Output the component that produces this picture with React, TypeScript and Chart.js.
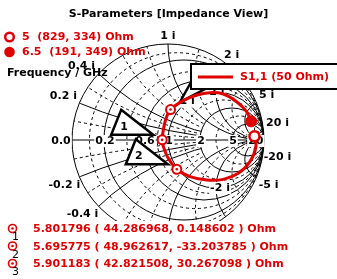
import React, { useEffect, useRef } from "react";
import { Chart, registerables } from "chart.js";

Chart.register(...registerables);

const TITLE = "S-Parameters [Impedance View]";
const Z0 = 50;

// S1,1 trace (reflection coefficient), sweep from 5 GHz to 6.5 GHz
const S11_RE = [0.9005, 0.916, 0.854, 0.732, 0.576, 0.403, 0.23, 0.0916, 0.003, -0.048, -0.0606, -0.042, -0.014, 0.026, 0.159, 0.299, 0.437, 0.576, 0.715, 0.819, 0.866];
const S11_IM = [0.0378, -0.069, -0.226, -0.347, -0.41, -0.417, -0.382, -0.3047, -0.191, -0.069, 0.0017, 0.139, 0.242, 0.3175, 0.41, 0.469, 0.493, 0.479, 0.399, 0.295, 0.194];

// sweep end points (GHz, Ohm)
const SWEEP_FREQ = [5, 6.5];
const SWEEP_R = [829, 191];
const SWEEP_X = [334, 349];

// markers (GHz, Ohm)
const MARKER_ID = ["1", "2", "3"];
const MARKER_FREQ = [5.801796, 5.695775, 5.901183];
const MARKER_R = [44.286968, 48.962617, 42.821508];
const MARKER_X = [0.148602, -33.203785, 30.267098];

// Smith grid
const R_MAJOR = [0.2, 0.6, 1, 2, 5, 20];
const R_MINOR = [0.1, 0.4, 0.8, 1.4, 3, 10];
const X_MAJOR = [0.2, 0.4, 1, 2, 5, 20];
const X_MINOR = [0.1, 0.3, 0.6, 0.8, 1.4, 3, 10];
const X_SMALL_LIMIT_R = 2; // reactance arcs below 1 stop at this resistance circle
const R_TICKS = [0, 0.2, 0.6, 1, 2, 5, 20];
const R_TICK_TEXT = ["0.0", "0.2", "0.6", "1", "2", "5", "20"];
const X_OUTER_TICKS = [0.2, 0.4, 1, 2, 5, 20, -20, -5, -0.2, -0.4];
const X_INNER_TICKS = [1, 2, -2];

// layout (pixels)
const W = 337;
const H = 279;
const CENTER_X = 168;
const CENTER_Y = 140;
const RADIUS = 96;
const TITLE_BLOCK = 22;
const CLIP_Y = 221;
const RED = "#e00000";
const FONT = "bold 11px 'DejaVu Sans'";
const OUTER_OFF: Record<string, number[]> = {
  "1": [0, -8], "2": [6, -8], "5": [10, -8], "20": [14, -7], "-20": [14, 8],
  "-5": [12, 8], "-0.2": [-15, 8], "-0.4": [-16, 8], "0.2": [-16, -7], "0.4": [-17, -8],
};
const INNER_OFF: Record<string, number[]> = { "1": [0, 0], "2": [1, 0], "-2": [4, 0] };
const TRI_SHAPE = [[-41, -30], [-51, -5], [-9, -5]];
const TRI_LABEL = [-38, -13];
const TRI3_SHAPE = [[9.5, -7.5], [30.5, -45.5], [59.5, -33.5]];

function gamma(r: number, x: number) {
  const den = (r + 1) * (r + 1) + x * x;
  return { x: (r * r + x * x - 1) / den, y: (2 * x) / den };
}

const markerG = MARKER_R.map((r, i) => gamma(r / Z0, MARKER_X[i] / Z0));
const sweepG = SWEEP_R.map((r, i) => gamma(r / Z0, SWEEP_X[i] / Z0));

function label(ctx: CanvasRenderingContext2D, text: string, x: number, y: number, bg: boolean) {
  ctx.font = FONT;
  ctx.textAlign = "center";
  ctx.textBaseline = "middle";
  if (bg) {
    const w = ctx.measureText(text).width;
    ctx.fillStyle = "#ffffff";
    ctx.fillRect(x - w / 2 - 1, y - 6, w + 2, 12);
  }
  ctx.fillStyle = "#000000";
  ctx.fillText(text, x, y);
}

const smithPlugin = {
  id: "smith",
  beforeDatasetsDraw(chart: any) {
    const ctx: CanvasRenderingContext2D = chart.ctx;
    const xs = chart.scales.x;
    const ys = chart.scales.y;
    const px = (v: number) => xs.getPixelForValue(v);
    const py = (v: number) => ys.getPixelForValue(v);
    const cx = px(0);
    const cy = py(0);
    const R = px(1) - cx;
    ctx.save();
    ctx.beginPath();
    ctx.rect(0, 0, chart.width, CLIP_Y);
    ctx.clip();
    ctx.save();
    ctx.beginPath();
    ctx.arc(cx, cy, R, 0, Math.PI * 2);
    ctx.clip();
    ctx.strokeStyle = "#000000";
    ctx.lineWidth = 1;
    const drawR = (r: number) => {
      ctx.beginPath();
      ctx.arc(px(r / (1 + r)), cy, R / (1 + r), 0, Math.PI * 2);
      ctx.stroke();
    };
    const drawX = (x: number) => {
      ctx.save();
      if (x < 1) {
        const rl = X_SMALL_LIMIT_R;
        const c = px(rl / (1 + rl));
        const rad = R / (1 + rl);
        ctx.beginPath();
        ctx.rect(0, 0, chart.width, chart.height);
        ctx.moveTo(c + rad, cy);
        ctx.arc(c, cy, rad, 0, Math.PI * 2);
        ctx.clip("evenodd");
      }
      for (const s of [1, -1]) {
        ctx.beginPath();
        ctx.arc(px(1), py(s / x), R / x, 0, Math.PI * 2);
        ctx.stroke();
      }
      ctx.restore();
    };
    ctx.setLineDash([3, 3]);
    R_MINOR.forEach(drawR);
    X_MINOR.forEach(drawX);
    ctx.setLineDash([]);
    R_MAJOR.forEach(drawR);
    X_MAJOR.forEach(drawX);
    ctx.restore();
    ctx.beginPath();
    ctx.arc(cx, cy, R, 0, Math.PI * 2);
    ctx.stroke();
    ctx.beginPath();
    ctx.moveTo(px(-1), cy);
    ctx.lineTo(px(1), cy);
    ctx.stroke();
    ctx.restore();

    // resistance labels on the real axis
    R_TICKS.forEach((r, i) => {
      const g = gamma(r, 0);
      const dx = r === 0 ? -11 : 1;
      label(ctx, R_TICK_TEXT[i], px(g.x) + dx, py(g.y) + 1, true);
    });
    // reactance labels on outer circle
    X_OUTER_TICKS.forEach((x) => {
      const g = gamma(0, x);
      const o = OUTER_OFF[String(x)];
      label(ctx, `${x} i`, px(g.x) + o[0], py(g.y) + o[1], false);
    });
    // reactance labels on r = 1 circle
    X_INNER_TICKS.forEach((x) => {
      const g = gamma(1, x);
      const o = INNER_OFF[String(x)];
      label(ctx, `${x} i`, px(g.x) + o[0], py(g.y) + o[1], true);
    });

    // marker callouts
    ctx.lineWidth = 2.5;
    ctx.lineJoin = "miter";
    markerG.forEach((g, i) => {
      const mx = px(g.x);
      const my = py(g.y);
      const shape = i < 2 ? TRI_SHAPE : TRI3_SHAPE;
      ctx.beginPath();
      shape.forEach((p, k) => (k === 0 ? ctx.moveTo(mx + p[0], my + p[1]) : ctx.lineTo(mx + p[0], my + p[1])));
      ctx.closePath();
      ctx.fillStyle = "#ffffff";
      ctx.fill();
      ctx.strokeStyle = "#000000";
      ctx.stroke();
      if (i < 2) label(ctx, MARKER_ID[i], mx + TRI_LABEL[0], my + TRI_LABEL[1], false);
    });
  },
  afterDatasetsDraw(chart: any) {
    const ctx: CanvasRenderingContext2D = chart.ctx;
    ctx.save();
    // S1,1 legend box
    ctx.fillStyle = "#ffffff";
    ctx.fillRect(191, 64, 160, 25);
    ctx.strokeStyle = "#000000";
    ctx.lineWidth = 2;
    ctx.strokeRect(191, 64, 160, 25);
    ctx.strokeStyle = RED;
    ctx.lineWidth = 3;
    ctx.beginPath();
    ctx.moveTo(198, 77);
    ctx.lineTo(233, 77);
    ctx.stroke();
    ctx.font = FONT;
    ctx.textAlign = "left";
    ctx.textBaseline = "middle";
    ctx.fillStyle = RED;
    ctx.fillText(`S1,1 (${Z0} Ohm)`, 240, 77.5);

    // sweep end legend
    ctx.beginPath();
    ctx.arc(9.5, 37, 4.3, 0, Math.PI * 2);
    ctx.fillStyle = "#ffffff";
    ctx.fill();
    ctx.lineWidth = 2.5;
    ctx.strokeStyle = RED;
    ctx.stroke();
    ctx.beginPath();
    ctx.arc(9.5, 52, 5.3, 0, Math.PI * 2);
    ctx.fillStyle = RED;
    ctx.fill();
    SWEEP_FREQ.forEach((f, i) => {
      ctx.fillStyle = RED;
      ctx.fillText(`${f}  (${SWEEP_R[i]}, ${SWEEP_X[i]}) Ohm`, 22, 37.5 + i * 15);
    });
    ctx.fillStyle = "#000000";
    ctx.fillText("Frequency / GHz", 7, 73.5);

    // marker list
    MARKER_FREQ.forEach((f, i) => {
      const y = 229.5 + i * 17.5;
      ctx.beginPath();
      ctx.arc(12.5, y - 1, 4, 0, Math.PI * 2);
      ctx.fillStyle = "#ffffff";
      ctx.fill();
      ctx.lineWidth = 1.6;
      ctx.strokeStyle = RED;
      ctx.stroke();
      ctx.beginPath();
      ctx.arc(12.5, y - 1, 1.3, 0, Math.PI * 2);
      ctx.fillStyle = RED;
      ctx.fill();
      ctx.font = "11px 'DejaVu Sans'";
      ctx.fillStyle = "#000000";
      ctx.textAlign = "center";
      ctx.fillText(MARKER_ID[i], 15.5, y + 8);
      ctx.font = FONT;
      ctx.textAlign = "left";
      ctx.fillStyle = RED;
      ctx.fillText(
        `${f.toFixed(6)} ( ${MARKER_R[i].toFixed(6)}, ${MARKER_X[i].toFixed(6)} ) Ohm`,
        33,
        y
      );
    });
    ctx.restore();
  },
};

export default function App() {
  const ref = useRef<HTMLCanvasElement>(null);
  useEffect(() => {
    document.body.style.margin = "0";
    const canvas = ref.current;
    if (!canvas) return;
    const chart = new Chart(canvas, {
      type: "scatter",
      data: {
        datasets: [
          {
            label: "S1,1",
            data: S11_RE.map((re, i) => ({ x: re, y: S11_IM[i] })),
            showLine: true,
            borderColor: RED,
            borderWidth: 3,
            pointRadius: 0,
            tension: 0.35,
            fill: false,
            order: 10,
          },
          {
            label: "markers",
            data: markerG,
            pointRadius: 4.5,
            pointBackgroundColor: "#ffffff",
            pointBorderColor: RED,
            pointBorderWidth: 2,
            order: 3,
          },
          {
            label: "marker dots",
            data: markerG,
            pointRadius: 1.3,
            pointBackgroundColor: RED,
            pointBorderColor: RED,
            pointBorderWidth: 0,
            order: 2,
          },
          {
            label: "start",
            data: [sweepG[0]],
            pointRadius: 5,
            pointBackgroundColor: "#ffffff",
            pointBorderColor: RED,
            pointBorderWidth: 2.5,
            order: 3,
          },
          {
            label: "end",
            data: [sweepG[1]],
            pointRadius: 5.5,
            pointBackgroundColor: RED,
            pointBorderColor: RED,
            pointBorderWidth: 1,
            order: 3,
          },
        ],
      },
      options: {
        animation: false,
        responsive: false,
        devicePixelRatio: 1,
        events: [],
        layout: { padding: 0, autoPadding: false } as any,
        plugins: {
          legend: { display: false },
          tooltip: { enabled: false },
          title: {
            display: true,
            text: TITLE,
            color: "#000000",
            font: { family: "'DejaVu Sans'", size: 11, weight: "bold", lineHeight: "14px" } as any,
            padding: { top: 7, bottom: 1 },
          },
        },
        scales: {
          x: { type: "linear", display: false, min: -CENTER_X / RADIUS, max: (W - CENTER_X) / RADIUS },
          y: {
            type: "linear",
            display: false,
            min: -(H - CENTER_Y) / RADIUS,
            max: (CENTER_Y - TITLE_BLOCK) / RADIUS,
          },
        },
      },
      plugins: [smithPlugin],
    });
    return () => chart.destroy();
  }, []);
  return (
    <div style={{ width: W, height: H }}>
      <canvas ref={ref} width={W} height={H} style={{ display: "block", width: W, height: H }} />
    </div>
  );
}
